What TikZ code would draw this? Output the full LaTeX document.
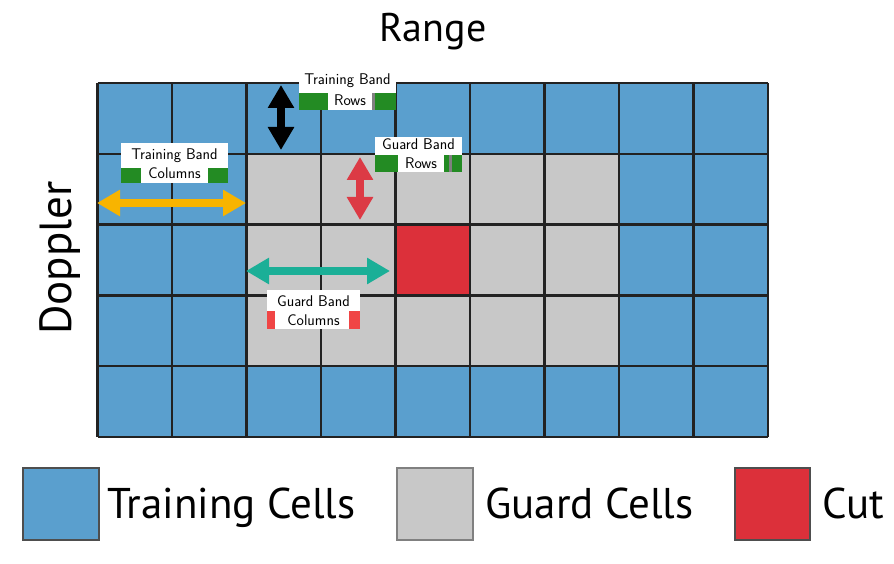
\documentclass[tikz,border=0pt]{standalone}
\usepackage{fontspec}
\setmainfont{PT Sans}
\usetikzlibrary{arrows.meta}
\definecolor{cblue}{HTML}{5A9FCE}
\definecolor{cgrey}{HTML}{C8C8C8}
\definecolor{cred}{HTML}{DC303A}
\definecolor{cgreen}{HTML}{238B23}
\definecolor{clred}{HTML}{F04545}
\definecolor{cyellow}{HTML}{F8B400}
\definecolor{cteal}{HTML}{1BAF97}
\definecolor{carred}{HTML}{DC3A45}
\definecolor{cgridline}{HTML}{222222}
\tikzset{
  gridline/.style={draw=cgridline, line width=2.2pt},
  lbl/.style={font=\sffamily\fontsize{15.5}{15.5}\selectfont, inner sep=0pt, anchor=base},
  bigtxt/.style={font=\fontsize{43}{43}\selectfont, inner sep=0pt, anchor=base west},
  dbl/.style={line width=8pt, {Triangle[length=23pt,width=25pt]}-{Triangle[length=23pt,width=25pt]}},
  legbox/.style={line width=2pt},
}
\begin{document}
\begin{tikzpicture}[x=1pt,y=-1pt]
\useasboundingbox (0,0) rectangle (894,564);
% cells
\def\cw{74.5}
\def\rh{70.8}
\fill[cblue] (97.5,83) rectangle (768,437);
\fill[cgrey] (97.5+2*\cw,83+\rh) rectangle (97.5+7*\cw,83+4*\rh);
\fill[cred] (97.5+4*\cw,83+2*\rh) rectangle (97.5+5*\cw,83+3*\rh);
% grid lines
\foreach \i in {0,...,9} {\draw[gridline] (97.5+\i*\cw,83) -- (97.5+\i*\cw,437);}
\foreach \j in {0,...,5} {\draw[gridline] (97.5,83+\j*\rh) -- (768,83+\j*\rh);}
% titles
\node[font=\fontsize{40}{40}\selectfont, inner sep=0pt, anchor=base] (range) at (433,42) {Range};
\node[font=\fontsize{45}{45}\selectfont, inner sep=0pt, anchor=base, rotate=90] (doppler) at (71,258) {Doppler};
% label: training band columns
\fill[white] (121,143) rectangle (228,183);
\fill[cgreen] (121,168) rectangle (141,183);
\fill[cgreen] (208,168) rectangle (228,183);
\node[lbl] (tbc1) at (174.5,160) {Training Band};
\node[lbl] (tbc2) at (174.5,179) {Columns};
% label: training band rows
\fill[white] (299,72) rectangle (396,110);
\fill[cgreen] (299,93) rectangle (328,110);
\fill[cgreen] (372,93) rectangle (396,110);
\fill[gray] (372,93) rectangle (375,110);
\node[lbl] (tbr1) at (347.5,85) {Training Band};
\node[lbl] (tbr2) at (350,106) {Rows};
% label: guard band rows
\fill[white] (375,137) rectangle (462,172);
\fill[cgreen] (375,155) rectangle (398,172);
\fill[cgreen] (444,155) rectangle (462,172);
\fill[gray] (449,155) rectangle (452,172);
\node[lbl] (gbr1) at (418.5,150) {Guard Band};
\node[lbl] (gbr2) at (421,169) {Rows};
% label: guard band columns
\fill[white] (267,290) rectangle (360,329);
\fill[clred] (267,311) rectangle (275,329);
\fill[clred] (349,311) rectangle (360,329);
\node[lbl] (gbc1) at (313.5,306) {Guard Band};
\node[lbl] (gbc2) at (313.5,325) {Columns};
% arrows
\coordinate (ya) at (97,203); \coordinate (yb) at (246,203);
\coordinate (ta) at (246,271); \coordinate (tb) at (390,271);
\coordinate (ka) at (281,85); \coordinate (kb) at (281,150);
\coordinate (ra) at (360,157); \coordinate (rb) at (360,220);
\draw[dbl, draw=cyellow, fill=cyellow] (ya) -- (yb);
\draw[dbl, draw=cteal, fill=cteal] (ta) -- (tb);
\draw[dbl, draw=black, fill=black] (ka) -- (kb);
\draw[dbl, draw=carred, fill=carred] (ra) -- (rb);
% legend
\filldraw[legbox, fill=cblue, draw=cgridline!80] (23,468) rectangle (99,540);
\node[bigtxt] (lt) at (107,518) {Training Cells};
\filldraw[legbox, fill=cgrey, draw=gray] (397,468) rectangle (473,540);
\node[bigtxt] (lg) at (485,518) {Guard Cells};
\filldraw[legbox, fill=cred, draw=cgridline!80] (735,468) rectangle (810,540);
\node[bigtxt] (lc) at (822,518) {Cut};
\end{tikzpicture}
\end{document}
